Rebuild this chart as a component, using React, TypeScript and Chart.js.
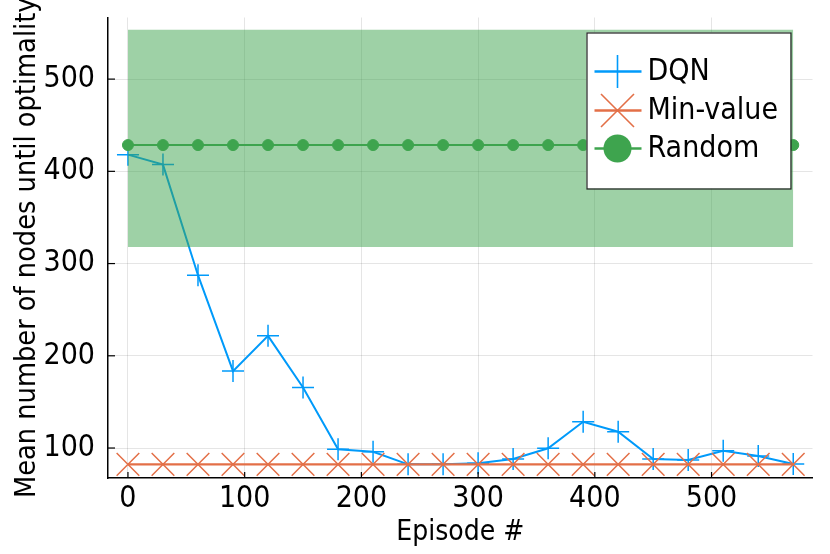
import { useEffect, useRef } from "react";
import { Chart, registerables } from "chart.js";

Chart.register(...registerables);

const episodes = [0, 30, 60, 90, 120, 150, 180, 210, 240, 270, 300, 330, 360, 390, 420, 450, 480, 510, 540, 570];
const dqn = [418.1, 407.3, 287.4, 183.4, 221.6, 165.7, 98.6, 96.0, 82.3, 82.3, 83.4, 88.1, 99.7, 128.5, 117.7, 88.1, 87.0, 97.1, 91.3, 82.7];
const minValue = [82.3, 82.3, 82.3, 82.3, 82.3, 82.3, 82.3, 82.3, 82.3, 82.3, 82.3, 82.3, 82.3, 82.3, 82.3, 82.3, 82.3, 82.3, 82.3, 82.3];
const randomMean = [428.5, 428.5, 428.5, 428.5, 428.5, 428.5, 428.5, 428.5, 428.5, 428.5, 428.5, 428.5, 428.5, 428.5, 428.5, 428.5, 428.5, 428.5, 428.5, 428.5];
const randomUpper = [553.5, 553.5, 553.5, 553.5, 553.5, 553.5, 553.5, 553.5, 553.5, 553.5, 553.5, 553.5, 553.5, 553.5, 553.5, 553.5, 553.5, 553.5, 553.5, 553.5];
const randomLower = [318, 318, 318, 318, 318, 318, 318, 318, 318, 318, 318, 318, 318, 318, 318, 318, 318, 318, 318, 318];
const xTickValues = [0, 100, 200, 300, 400, 500];
const yTickValues = [100, 200, 300, 400, 500];
const seriesNames = ["DQN", "Min-value", "Random"];
const xTitle = "Episode #";
const yTitle = "Mean number of nodes until optimality";

const BLUE = "#009afa";
const ORANGE = "#e36f47";
const GREEN = "#3ea44e";
const FONT = "'DejaVu Sans Condensed', 'DejaVu Sans', sans-serif";

const toPts = (ys: number[]) => episodes.map((x, i) => ({ x, y: ys[i] }));

const innerTicks = {
  id: "innerTicks",
  afterDatasetsDraw(chart: any) {
    const { ctx, chartArea, scales } = chart;
    ctx.save();
    ctx.strokeStyle = "#000";
    ctx.lineWidth = 1.2;
    scales.x.ticks.forEach((t: any) => {
      const px = scales.x.getPixelForValue(t.value);
      ctx.beginPath();
      ctx.moveTo(px, chartArea.bottom);
      ctx.lineTo(px, chartArea.bottom - 6);
      ctx.stroke();
    });
    scales.y.ticks.forEach((t: any) => {
      const py = scales.y.getPixelForValue(t.value);
      ctx.beginPath();
      ctx.moveTo(chartArea.left, py);
      ctx.lineTo(chartArea.left + 7, py);
      ctx.stroke();
    });
    ctx.restore();
  },
};

const customLegend = {
  id: "customLegend",
  afterDraw(chart: any) {
    const { ctx, chartArea } = chart;
    const boxL = chartArea.right - 226;
    const boxT = chartArea.top + 15;
    const boxW = 204;
    const boxH = 156;
    ctx.save();
    ctx.fillStyle = "#ffffff";
    ctx.fillRect(boxL, boxT, boxW, boxH);
    ctx.strokeStyle = "#222";
    ctx.lineWidth = 1.2;
    ctx.strokeRect(boxL + 0.5, boxT + 0.5, boxW, boxH);
    const rows = [boxT + 39, boxT + 78, boxT + 116];
    const colors = [BLUE, ORANGE, GREEN];
    const lx0 = boxL + 8;
    const lx1 = boxL + 55;
    const mx = boxL + 31;
    rows.forEach((ry, i) => {
      ctx.strokeStyle = colors[i];
      ctx.lineWidth = 2.7;
      ctx.beginPath();
      ctx.moveTo(lx0, ry);
      ctx.lineTo(lx1, ry);
      ctx.stroke();
      ctx.lineWidth = 1.6;
      if (i === 0) {
        ctx.beginPath();
        ctx.moveTo(mx, ry - 16.5);
        ctx.lineTo(mx, ry + 16.5);
        ctx.stroke();
      } else if (i === 1) {
        const d = 16.5;
        ctx.beginPath();
        ctx.moveTo(mx - d, ry - d);
        ctx.lineTo(mx + d, ry + d);
        ctx.moveTo(mx - d, ry + d);
        ctx.lineTo(mx + d, ry - d);
        ctx.stroke();
      } else {
        ctx.fillStyle = colors[i];
        ctx.beginPath();
        ctx.arc(mx, ry, 14, 0, Math.PI * 2);
        ctx.fill();
      }
      ctx.fillStyle = "#000";
      ctx.font = `30px ${FONT}`;
      ctx.textAlign = "left";
      ctx.textBaseline = "middle";
      ctx.fillText(seriesNames[i], boxL + 61, ry + 1);
    });
    ctx.restore();
  },
};

export default function App() {
  const ref = useRef<HTMLCanvasElement | null>(null);
  useEffect(() => {
    if (!ref.current) return;
    const chart = new Chart(ref.current, {
      type: "line",
      data: {
        datasets: [
          {
            label: seriesNames[2],
            data: toPts(randomMean),
            borderColor: GREEN,
            backgroundColor: GREEN,
            borderWidth: 2,
            pointStyle: "circle",
            pointRadius: 5.5,
            pointBorderWidth: 1,
            pointBorderColor: GREEN,
            pointBackgroundColor: GREEN,
            fill: false,
          },
          {
            label: "band-upper",
            data: toPts(randomUpper),
            borderWidth: 0,
            borderColor: "rgba(0,0,0,0)",
            pointRadius: 0,
            backgroundColor: "rgba(62,164,78,0.5)",
            fill: "+1",
          },
          {
            label: "band-lower",
            data: toPts(randomLower),
            borderWidth: 0,
            borderColor: "rgba(0,0,0,0)",
            pointRadius: 0,
            fill: false,
          },
          {
            label: seriesNames[1],
            data: toPts(minValue),
            borderColor: ORANGE,
            backgroundColor: ORANGE,
            borderWidth: 2.2,
            pointStyle: "crossRot",
            pointRadius: 16,
            pointBorderWidth: 1.5,
            pointBorderColor: ORANGE,
            fill: false,
          },
          {
            label: seriesNames[0],
            data: toPts(dqn),
            borderColor: BLUE,
            backgroundColor: BLUE,
            borderWidth: 2,
            pointStyle: "cross",
            pointRadius: 11,
            pointBorderWidth: 1.5,
            pointBorderColor: BLUE,
            fill: false,
          },
        ],
      },
      options: {
        animation: false,
        responsive: false,
        devicePixelRatio: 1,
        layout: { padding: { left: 0, right: 17, top: 17, bottom: 0 } },
        elements: { line: { tension: 0 } },
        plugins: {
          legend: { display: false },
          tooltip: { enabled: false },
        },
        scales: {
          x: {
            type: "linear",
            min: -17.1,
            max: 586.5,
            afterBuildTicks: (s: any) => {
              s.ticks = xTickValues.map((v) => ({ value: v }));
            },
            afterFit: (s: any) => {
              s.height = 76;
              s.paddingLeft = 0;
              s.paddingRight = 0;
            },
            grid: { color: "rgba(0,0,0,0.1)", lineWidth: 1, drawTicks: false },
            border: { display: true, color: "#000", width: 1.5 },
            ticks: {
              color: "#000",
              font: { family: FONT, size: 30 },
              padding: 3,
              maxRotation: 0,
              callback: (v: any) => String(v),
            },
            title: {
              display: true,
              text: xTitle,
              color: "#000",
              font: { family: FONT, size: 28 },
              padding: { top: 0, bottom: 4 },
            },
          },
          y: {
            type: "linear",
            min: 67.5,
            max: 566.8,
            afterBuildTicks: (s: any) => {
              s.ticks = yTickValues.map((v) => ({ value: v }));
            },
            afterFit: (s: any) => {
              s.width = 108;
              s.paddingTop = 0;
              s.paddingBottom = 0;
            },
            grid: { color: "rgba(0,0,0,0.1)", lineWidth: 1, drawTicks: false },
            border: { display: true, color: "#000", width: 1.5 },
            ticks: {
              color: "#000",
              font: { family: FONT, size: 30 },
              padding: 13,
              callback: (v: any) => String(v),
            },
            title: {
              display: true,
              text: yTitle,
              color: "#000",
              font: { family: FONT, size: 28.6 },
              padding: { top: 10, bottom: 0 },
            },
          },
        },
      },
      plugins: [innerTicks, customLegend],
    });
    return () => chart.destroy();
  }, []);
  return (
    <div style={{ position: "fixed", left: 0, top: 0, width: 830, height: 554, background: "#fff" }}>
      <canvas ref={ref} width={830} height={554} style={{ width: 830, height: 554 }} />
    </div>
  );
}
